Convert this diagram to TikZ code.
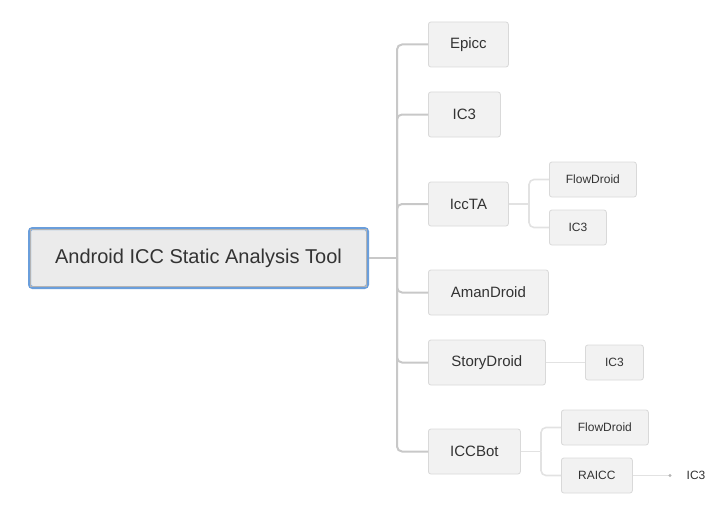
\documentclass[tikz,border=0pt]{standalone}
\usepackage{fontspec}
\setmainfont{Liberation Sans}
\definecolor{txt}{HTML}{333333}
\definecolor{boxfill}{HTML}{F2F2F2}
\definecolor{boxline}{HTML}{D9D9D9}
\definecolor{rootfill}{HTML}{EBEBEB}
\definecolor{rootblue}{HTML}{6A9EDB}
\definecolor{trunkc}{HTML}{C8C8C8}
\definecolor{subc}{HTML}{E2E2E2}
\tikzset{
  lone/.style={draw=boxline, fill=boxfill, rounded corners=2.5pt, line width=0.8pt, inner sep=0pt, anchor=west, text=txt, font=\fontsize{15}{18}\selectfont, minimum height=45pt},
  ltwo/.style={draw=boxline, fill=boxfill, rounded corners=2.5pt, line width=0.8pt, inner sep=0pt, anchor=west, text=txt, font=\fontsize{12}{14}\selectfont, minimum height=35pt},
  trunk/.style={draw=trunkc, line width=2pt, rounded corners=5pt},
  subl/.style={draw=subc, line width=1.6pt, rounded corners=5pt},
}
\begin{document}
\begin{tikzpicture}[x=1pt,y=-1pt]
\useasboundingbox (0,0) rectangle (727,508);
% root
\node[draw=rootblue, line width=3pt, fill=rootfill, rounded corners=3pt, minimum width=338pt, minimum height=59pt, inner sep=0pt, text=txt, font=\fontsize{20}{24}\selectfont] (root) at (198.5,258) {Android ICC Static Analysis Tool};
\draw[draw=trunkc!90!black, line width=1pt] ([shift={(2.6pt,-2.6pt)}]root.north west) rectangle ([shift={(-2.6pt,2.6pt)}]root.south east);
% level one
\node[lone, minimum width=80pt] (epicc) at (428,44.5) {Epicc};
\node[lone, minimum width=72pt] (icthree) at (428,114.5) {IC3};
\node[lone, minimum width=80pt, minimum height=44pt] (iccta) at (428,204) {IccTA};
\node[lone, minimum width=120pt] (aman) at (428,292.5) {AmanDroid};
\node[lone, minimum width=117pt] (story) at (428,362.5) {StoryDroid};
\node[lone, minimum width=92pt] (iccbot) at (428,451.5) {ICCBot};
% level two
\node[ltwo, minimum width=87pt] (fdA) at (549,179.5) {FlowDroid};
\node[ltwo, minimum width=57pt] (icB) at (549,227.5) {IC3};
\node[ltwo, minimum width=58pt] (icC) at (585,362.5) {IC3};
\node[ltwo, minimum width=87pt] (fdD) at (561,427.5) {FlowDroid};
\node[ltwo, minimum width=71pt] (raicc) at (561,475.5) {RAICC};
\node[text=txt, font=\fontsize{12}{14}\selectfont, inner sep=0pt] (icE) at (696,475.5) {IC3};
% connectors
\coordinate (tr) at (397,258);
\draw[trunk] (root.east) -- (tr);
\foreach \n in {epicc,icthree,iccta,aman,story,iccbot}{
  \draw[trunk] (tr) |- (\n.west);
}
\coordinate (bA) at (529,204);
\draw[subl] (iccta.east) -- (bA);
\draw[subl] (bA) |- (fdA.west);
\draw[subl] (bA) |- (icB.west);
\draw[subl] (story.east) -- (icC.west);
\coordinate (bB) at (541,451.5);
\draw[subl] (iccbot.east) -- (bB);
\draw[subl] (bB) |- (fdD.west);
\draw[subl] (bB) |- (raicc.west);
\coordinate (dotE) at (670,475.5);
\draw[subl] (raicc.east) -- (dotE);
\fill[subc!80!black] (dotE) circle (1.6pt);
\end{tikzpicture}
\end{document}
